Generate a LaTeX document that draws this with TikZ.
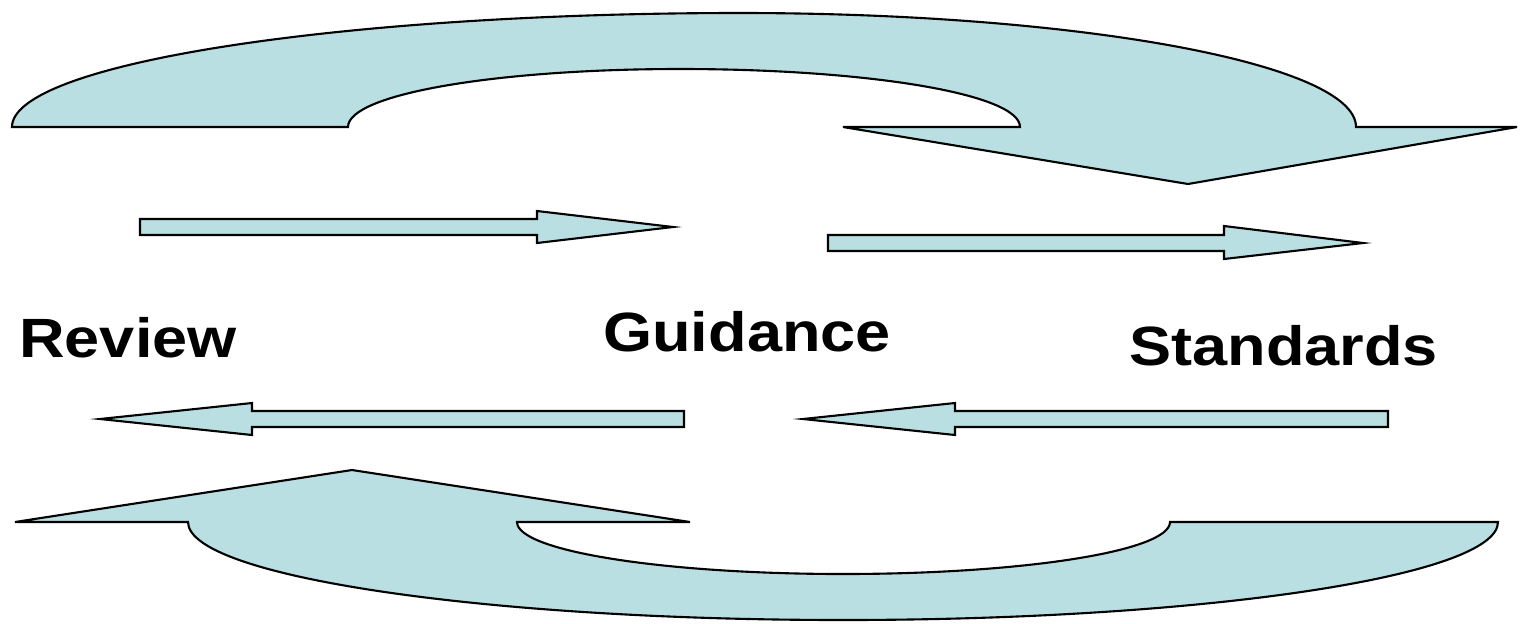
\documentclass[tikz,border=0pt]{standalone}
\usepackage{fontspec}
\setmainfont{Liberation Sans}
\definecolor{arrowfill}{HTML}{B9DFE2}
\tikzset{
  shapearrow/.style={fill=arrowfill, draw=black, line width=1.2pt, line join=miter},
  label/.style={anchor=base west, inner sep=0pt, font=\fontsize{31.5}{36}\selectfont\bfseries}
}
\begin{document}
\begin{tikzpicture}[x=0.02cm, y=-0.02cm]
\useasboundingbox (0,0) rectangle (1524,623);
% top curved arrow
\draw[shapearrow] (12,127)
  .. controls (12,64) and (338,13) .. (740,13)
  .. controls (1080,13) and (1356,64) .. (1356,127)
  -- (1517,127) -- (1188,184) -- (843,127) -- (1020,127)
  .. controls (1020,94) and (868,69) .. (680,69)
  .. controls (497,69) and (348,94) .. (348,127)
  -- cycle;
% bottom curved arrow
\draw[shapearrow] (188,522)
  .. controls (188,576) and (481,620) .. (843,620)
  .. controls (1205,620) and (1498,576) .. (1498,522)
  -- (1170,522)
  .. controls (1170,551) and (1024,574) .. (843,574)
  .. controls (663,574) and (517,551) .. (517,522)
  -- (690,522) -- (352,470) -- (15,522) -- cycle;
% straight arrows
\draw[shapearrow] (140,219) -- (537,219) -- (537,211) -- (673,227) -- (537,243) -- (537,235) -- (140,235) -- cycle;
\draw[shapearrow] (828,235) -- (1224,235) -- (1224,226) -- (1363,243) -- (1224,259) -- (1224,251) -- (828,251) -- cycle;
\draw[shapearrow] (684,411) -- (252,411) -- (252,403) -- (100,419) -- (252,435) -- (252,427) -- (684,427) -- cycle;
\draw[shapearrow] (1388,411) -- (955,411) -- (955,403) -- (803,419) -- (955,435) -- (955,427) -- (1388,427) -- cycle;
% labels
\node[label] (review) at (19,357) {\scalebox{1.14}[1]{Review}};
\node[label] (guidance) at (603,351) {\scalebox{1.14}[1]{Guidance}};
\node[label] (standards) at (1129,365) {\scalebox{1.14}[1]{Standards}};
\end{tikzpicture}
\end{document}
